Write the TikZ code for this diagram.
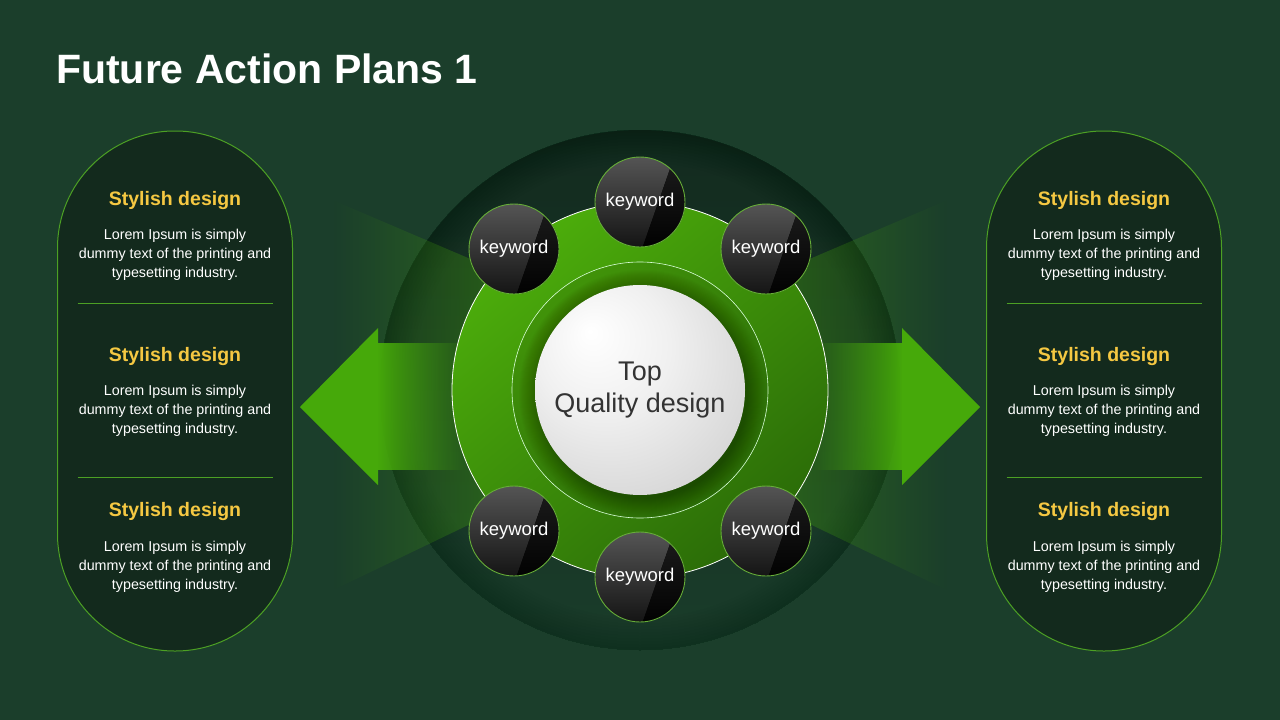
\documentclass[tikz,border=0pt]{standalone}
\usepackage{fontspec}
\setmainfont{Liberation Sans}
\usetikzlibrary{fadings}
\definecolor{bg}{HTML}{1B3E2B}
\definecolor{panelfill}{HTML}{132A1D}
\definecolor{panelline}{HTML}{4CA024}
\definecolor{ylw}{HTML}{F5C842}
\definecolor{agreen}{HTML}{46A90A}
\definecolor{bigTop}{HTML}{132B1F}
\definecolor{bigBot}{HTML}{1A3C2A}
\definecolor{bigRim}{HTML}{0A1E13}
\definecolor{ringA}{HTML}{4CAD0B}
\definecolor{ringB}{HTML}{2B6C08}
\definecolor{ballA}{HTML}{F0F0F0}
\definecolor{ballB}{HTML}{CFCFCF}
\definecolor{ballC}{HTML}{A9A9A9}
\definecolor{kwA}{HTML}{555555}
\definecolor{kwB}{HTML}{141414}
\definecolor{kwC}{HTML}{1E1E1E}
\definecolor{kwline}{HTML}{66AE38}
\definecolor{toptext}{HTML}{333333}
\tikzfading[name=fadeinright, left color=transparent!100, right color=transparent!0]
\tikzfading[name=fadeinleft, left color=transparent!0, right color=transparent!100]
\pgfdeclareradialshading{ballsh}{\pgfpoint{-12bp}{14bp}}{color(0bp)=(white); color(16bp)=(ballA); color(40bp)=(ballB); color(62bp)=(ballC)}
\tikzset{
  paneltitle/.style={text=ylw, font=\fontsize{19.5}{22}\selectfont\bfseries},
  panelbody/.style={text=white, align=center, font=\fontsize{14.3}{19}\selectfont},
  kwnode/.style={circle, draw=kwline, line width=0.9pt, minimum size=90pt, inner sep=0pt, text=white, font=\fontsize{18.5}{20}\selectfont},
  panelbox/.style={draw=panelline, line width=1pt, fill=panelfill, rounded corners=117pt},
  divider/.style={draw=panelline, line width=1pt},
  arrowfill/.style={fill=agreen}
}
\newcommand\kwball[3]{%
  \begin{scope}
    \clip (#2,#3) circle (45);
    \fill[top color=kwA, bottom color=kwB] (#2-46,#3-46) rectangle (#2+46,#3+46);
    \fill[top color=kwC, bottom color=black] (#2+36,#3-50) -- (#2+60,#3-50) -- (#2+60,#3+50) -- (#2+1,#3+50) -- cycle;
  \end{scope}
  \node[kwnode] (#1) at (#2,#3) {keyword};}
\newcommand\panelset[2]{%
  \draw[panelbox] (#1-117.5,131) rectangle (#1+117.5,651);
  \draw[divider] (#1-97.5,303) -- (#1+97.5,303);
  \draw[divider] (#1-97.5,477) -- (#1+97.5,477);
  \node[paneltitle] (#2t1) at (#1,200) {Stylish design};
  \node[panelbody] (#2b1) at (#1,255) {Lorem Ipsum is simply\\dummy text of the printing and\\typesetting industry.};
  \node[paneltitle] (#2t2) at (#1,356) {Stylish design};
  \node[panelbody] (#2b2) at (#1,411) {Lorem Ipsum is simply\\dummy text of the printing and\\typesetting industry.};
  \node[paneltitle] (#2t3) at (#1,511) {Stylish design};
  \node[panelbody] (#2b3) at (#1,567) {Lorem Ipsum is simply\\dummy text of the printing and\\typesetting industry.};}
\begin{document}
\begin{tikzpicture}[x=1pt,y=-1pt]
\fill[bg] (0,0) rectangle (1280,720);
\useasboundingbox (0,0) rectangle (1280,720);
% title
\node[anchor=base west, inner sep=0pt, text=white, font=\fontsize{41}{48}\selectfont\bfseries] (title) at (56,83) {Future Action Plans 1};
% panels
\panelset{175}{L}
\panelset{1104}{R}
% big dark circle with darker rim
\shade[top color=bigTop, bottom color=bigBot] (640,390) circle (260);
\foreach \r in {228,231,...,258}
  \fill[bigRim, fill opacity=0.035, even odd rule] (640,390) circle (260) (640,390) circle (\r);
% beams
\fill[agreen, fill opacity=0.42, path fading=fadeinright] (333,200) -- (520,280) -- (520,500) -- (333,590) -- cycle;
\fill[agreen, fill opacity=0.42, path fading=fadeinleft] (947,200) -- (760,280) -- (760,500) -- (947,590) -- cycle;
% arrows
\fill[agreen, path fading=fadeinleft] (377,343) rectangle (468,470);
\fill[arrowfill] (300,407) -- (378,328) -- (378,485) -- cycle;
\fill[agreen, path fading=fadeinright] (812,343) rectangle (903,470);
\fill[arrowfill] (980,407) -- (902,328) -- (902,485) -- cycle;
% green ring
\shade[top color=ringA, bottom color=ringB, shading angle=40] (640,390) circle (188);
\draw[white, line width=0.8pt] (640,390) circle (188);
\shade[top color=ringA!85!black, bottom color=ringB, shading angle=40] (640,390) circle (128);
\draw[white!85!green, line width=0.6pt] (640,390) circle (128);
\foreach \r in {106,107,...,123}
  \fill[black, fill opacity=0.017] (642,393) circle (\r);
% ball
\shade[shading=ballsh] (640,390) circle (105);
\node[text=toptext, align=center, font=\fontsize{27}{32}\selectfont] (center) at (640,390) {Top\\Quality design};
% keywords
\kwball{k1}{640}{202}
\kwball{k2}{766}{249}
\kwball{k3}{766}{531}
\kwball{k4}{640}{577}
\kwball{k5}{514}{531}
\kwball{k6}{514}{249}
\end{tikzpicture}
\end{document}
